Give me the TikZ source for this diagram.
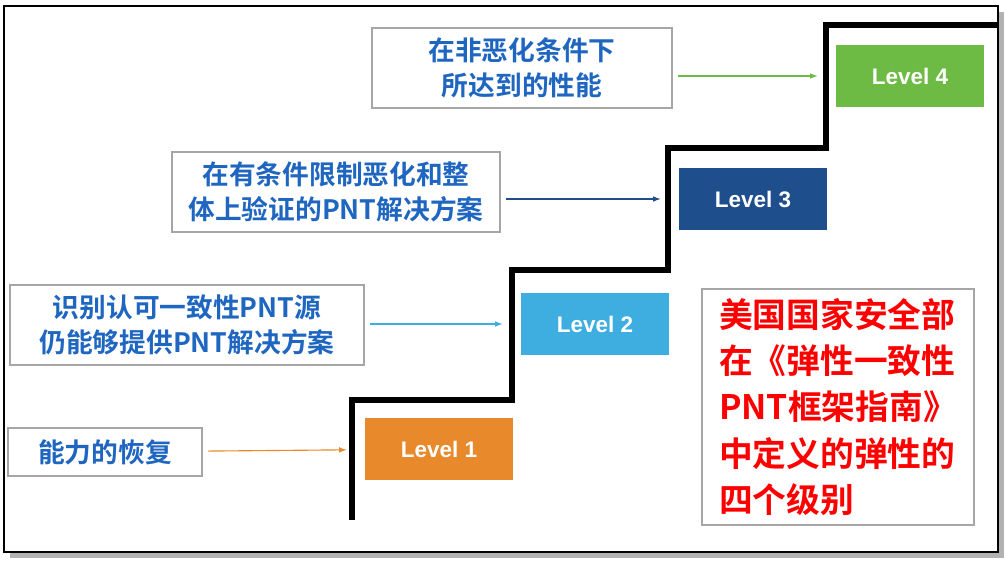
\documentclass[tikz,border=0pt]{standalone}
\usepackage{fontspec}
\newfontfamily\cjk{Noto Sans CJK SC Bold}
\setsansfont{Liberation Sans}
\usetikzlibrary{positioning}
\definecolor{lvorange}{HTML}{E8892C}
\definecolor{lvlight}{HTML}{3DAEDF}
\definecolor{lvdark}{HTML}{1F4E8C}
\definecolor{lvgreen}{HTML}{6DBA45}
\definecolor{txtblue}{HTML}{1F66C1}
\tikzset{
  levelbox/.style={minimum width=3.7cm, minimum height=1.55cm, text=white, font=\sffamily\bfseries\fontsize{16}{20}\selectfont},
  notebox/.style={draw=gray!70, thick, fill=white, text=txtblue, align=center, font=\cjk\fontsize{19}{25}\selectfont, inner sep=4pt},
  pointer/.style={-latex, thick, shorten <=4pt, shorten >=13pt}
}
\begin{document}
\begin{tikzpicture}[x=0.025cm, y=-0.025cm]
\useasboundingbox (0,0) rectangle (1006,560);
\fill[gray!60] (10,12) rectangle (1004,558);
\draw[thick, fill=white] (4,6) rectangle (998,552);
% staircase
\draw[line width=4pt] (352,520) -- (352,400) -- (512,400) -- (512,270) -- (668,270) -- (668,148) -- (826,148) -- (826,25) -- (998,25);
% levels
\node[levelbox, fill=lvorange] (l1) at (439,449) {Level 1};
\node[levelbox, fill=lvlight] (l2) at (595,324) {Level 2};
\node[levelbox, fill=lvdark] (l3) at (753,199) {Level 3};
\node[levelbox, fill=lvgreen] (l4) at (910,76) {Level 4};
% notes
\node[notebox, minimum width=4.85cm, minimum height=1.2cm] (n1) at (105,452) {能力的恢复};
\node[notebox, minimum width=8.85cm, minimum height=2cm] (n2) at (187,325) {识别认可一致性PNT源\\仍能够提供PNT解决方案};
\node[notebox, minimum width=8.2cm, minimum height=2cm] (n3) at (336,192) {在有条件限制恶化和整\\体上验证的PNT解决方案};
\node[notebox, minimum width=7.5cm, minimum height=2cm] (n4) at (522,68) {在非恶化条件下\\所达到的性能};
\node[draw=gray!70, thick, text=red, align=left, font=\cjk\fontsize{24}{33}\selectfont, minimum width=6.8cm, minimum height=5.9cm] (note) at (838,407) {美国国家安全部\\在《弹性一致性\\PNT框架指南》\\中定义的弹性的\\四个级别};
% pointers
\draw[pointer, lvorange] (n1) -- (l1);
\draw[pointer, lvlight] (n2.east |- l2) -- (l2);
\draw[pointer, lvdark] (n3.east |- l3) -- (l3);
\draw[pointer, lvgreen] (n4.east |- l4) -- (l4);
\end{tikzpicture}
\end{document}
